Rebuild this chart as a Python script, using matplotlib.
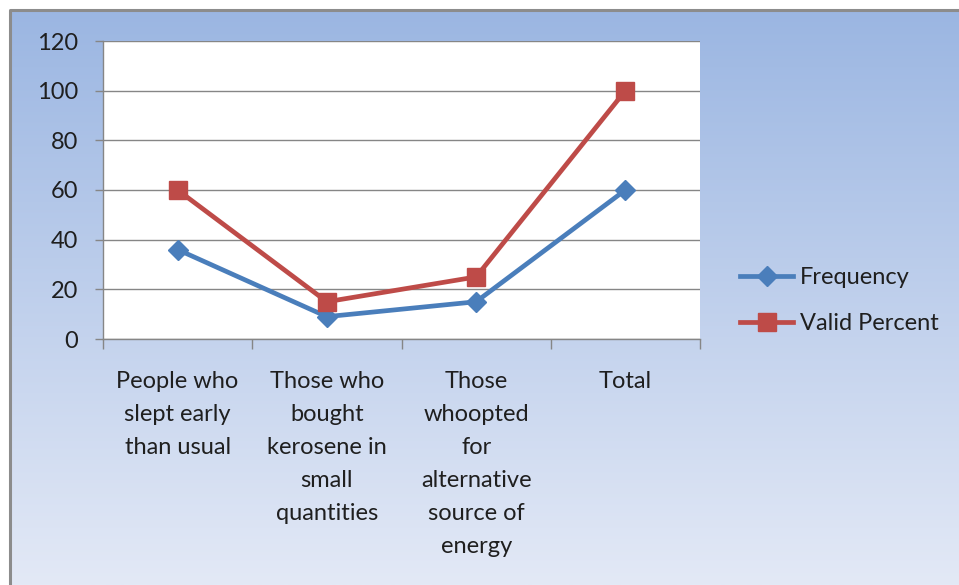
import numpy as np
import matplotlib.pyplot as plt
from matplotlib.lines import Line2D

categories = [
    "People who\nslept early\nthan usual",
    "Those who\nbought\nkerosene in\nsmall\nquantities",
    "Those\nwhoopted\nfor\nalternative\nsource of\nenergy",
    "Total",
]
frequency = [36, 9, 15, 60]
valid_percent = [60, 15, 25, 100]
y_ticks = [0, 20, 40, 60, 80, 100, 120]

plt.rcParams["font.family"] = ["Lato", "DejaVu Sans"]
text_color = "#1f1f1f"
blue = "#4A7EBB"
red = "#BE4B48"
fs = 17

fig = plt.figure(figsize=(9.59, 5.85), dpi=100)
fig.patch.set_facecolor("white")

# background gradient panel with grey border at top/left
bg = fig.add_axes([0, 0, 1, 1], zorder=0)
bg.set_xlim(0, 959)
bg.set_ylim(585, 0)
bg.axis("off")
top = np.array([155, 182, 226]) / 255
bottom = np.array([227, 233, 246]) / 255
t = np.linspace(0, 1, 256)[:, None]
grad = top[None, :] * (1 - t) + bottom[None, :] * t
bg.imshow(grad[:, None, :], extent=(10, 959, 585, 10), aspect="auto")
bg.plot([10, 10, 959], [585, 10, 10], color="#8c8c8c", lw=2.2, solid_capstyle="butt")

ax = fig.add_axes([103 / 959, 1 - 339 / 585, (700 - 103) / 959, (339 - 41) / 585], zorder=1)
ax.set_facecolor("white")
x = np.arange(len(categories))
ax.plot(x, frequency, color=blue, lw=3.4, marker="D", markersize=10.5, label="Frequency", zorder=3)
ax.plot(x, valid_percent, color=red, lw=3.4, marker="s", markersize=13.5, label="Valid Percent", zorder=4)

ax.set_xlim(-0.5, len(categories) - 0.5)
ax.set_ylim(0, 120)
ax.set_yticks(y_ticks)
ax.yaxis.grid(True, color="#868686", lw=1)
ax.set_axisbelow(True)
for s in ["top", "right"]:
    ax.spines[s].set_visible(False)
for s in ["left", "bottom"]:
    ax.spines[s].set_color("#868686")
    ax.spines[s].set_linewidth(1)

ax.tick_params(axis="y", colors="#868686", length=6, width=1, labelcolor=text_color,
               labelsize=fs, pad=12)
ax.set_xticks(x)
ax.set_xticklabels(categories, fontsize=fs, color=text_color, linespacing=1.71, va="top")
ax.tick_params(axis="x", length=0, pad=23)
ax.set_xticks(np.arange(-0.5, len(categories), 1), minor=True)
ax.tick_params(axis="x", which="minor", length=7, width=1, colors="#868686")

handles = [
    Line2D([], [], color=blue, lw=3.4, marker="D", markersize=10.5),
    Line2D([], [], color=red, lw=3.4, marker="s", markersize=13.5),
]
fig.legend(handles, ["Frequency", "Valid Percent"], loc="upper left",
           bbox_to_anchor=(740 / 959, 1 - 267 / 585), frameon=False, fontsize=fs,
           borderpad=0, borderaxespad=0, handlelength=2.25, handletextpad=0.3,
           labelspacing=1.07, labelcolor=text_color)

fig.savefig("out.png", dpi=100, facecolor="white")
